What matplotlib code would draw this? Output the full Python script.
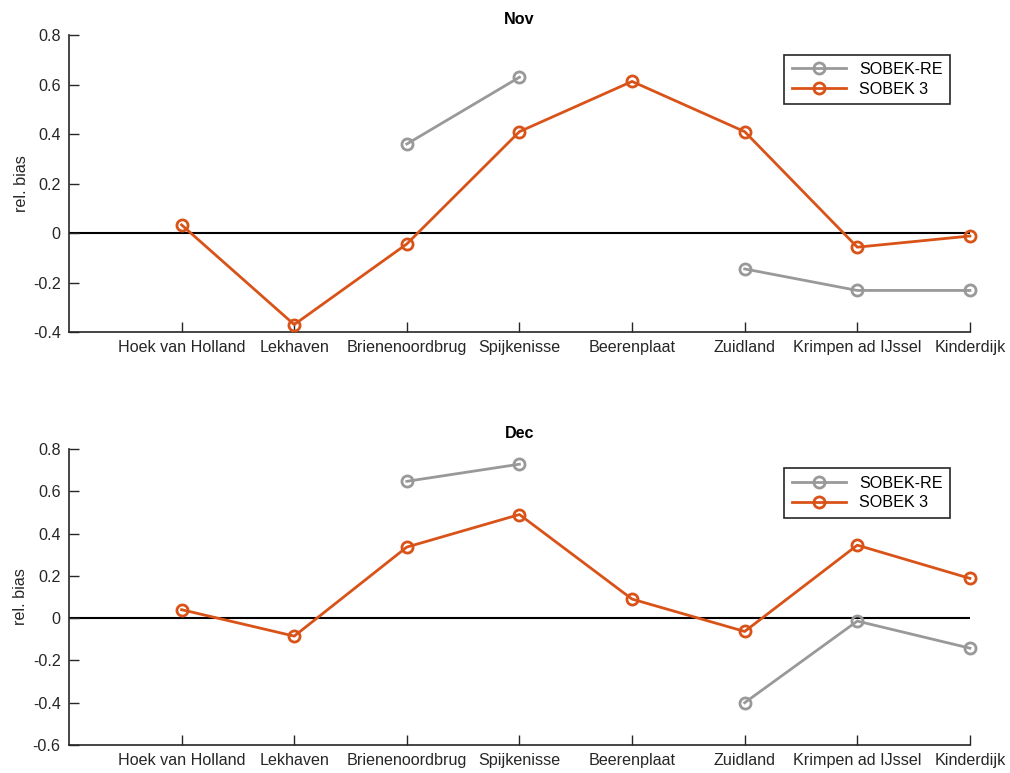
import numpy as np
import matplotlib
matplotlib.use('Agg')
import matplotlib.pyplot as plt

plt.rcParams['font.family'] = ['Liberation Sans', 'DejaVu Sans']

stations = ['Hoek van Holland', 'Lekhaven', 'Brienenoordbrug', 'Spijkenisse',
            'Beerenplaat', 'Zuidland', 'Krimpen ad IJssel', 'Kinderdijk']

nan = np.nan
# relative bias per station, November
nov_re = [nan, nan, 0.36, 0.63, nan, -0.145, -0.232, -0.232]
nov_s3 = [0.033, -0.37, -0.044, 0.41, 0.613, 0.41, -0.057, -0.012]
# relative bias per station, December
dec_re = [nan, nan, 0.647, 0.728, nan, -0.40, -0.014, -0.142]
dec_s3 = [0.04, -0.085, 0.336, 0.49, 0.09, -0.063, 0.345, 0.188]

GRAY = '#999999'
ORANGE = '#D95319'
AXCOL = '#262626'
FS = 11.6

fig = plt.figure(figsize=(10.1, 7.73), dpi=100)
ax_nov = fig.add_axes([0.0683, 0.5705, 0.892, 0.384])
ax_dec = fig.add_axes([0.0683, 0.0362, 0.892, 0.383])


def draw(ax, re, s3, title, ylim):
    x = np.arange(1, len(stations) + 1)
    ax.axhline(0, color='black', lw=1.5, zorder=1)
    ax.plot(x, re, color=GRAY, lw=2, marker='o', ms=8, mfc='none',
            mec=GRAY, mew=2, label='SOBEK-RE', zorder=2, clip_on=False)
    ax.plot(x, s3, color=ORANGE, lw=2, marker='o', ms=8, mfc='none',
            mec=ORANGE, mew=2, label='SOBEK 3', zorder=3, clip_on=False)
    ax.set_xlim(0, len(stations))
    ax.set_ylim(*ylim)
    ax.set_xticks(x)
    ax.set_xticklabels(stations, fontsize=FS, color=AXCOL)
    yt = np.arange(ylim[0], ylim[1] + 0.01, 0.2)
    ax.set_yticks(yt)
    ax.set_yticklabels([f'{v:g}' if abs(v) > 1e-9 else '0' for v in yt],
                       fontsize=FS, color=AXCOL)
    ax.tick_params(direction='in', length=7, width=1, color=AXCOL, pad=6)
    for side in ('top', 'right'):
        ax.spines[side].set_visible(False)
    for side in ('left', 'bottom'):
        ax.spines[side].set_color(AXCOL)
        ax.spines[side].set_linewidth(1.2)
    ax.set_ylabel('rel. bias', fontsize=FS, color=AXCOL, labelpad=3)
    ax.set_title(title, fontsize=FS, fontweight='bold', pad=8)
    leg = ax.legend(loc='upper right', bbox_to_anchor=(0.987, 0.962),
                    fontsize=FS, fancybox=False, framealpha=1,
                    handlelength=3.4, borderpad=0.45, labelspacing=0.3)
    leg.get_frame().set_edgecolor(AXCOL)
    leg.get_frame().set_linewidth(1.2)


draw(ax_nov, nov_re, nov_s3, 'Nov', (-0.4, 0.8))
draw(ax_dec, dec_re, dec_s3, 'Dec', (-0.6, 0.8))

fig.savefig('out.png', dpi=100)
